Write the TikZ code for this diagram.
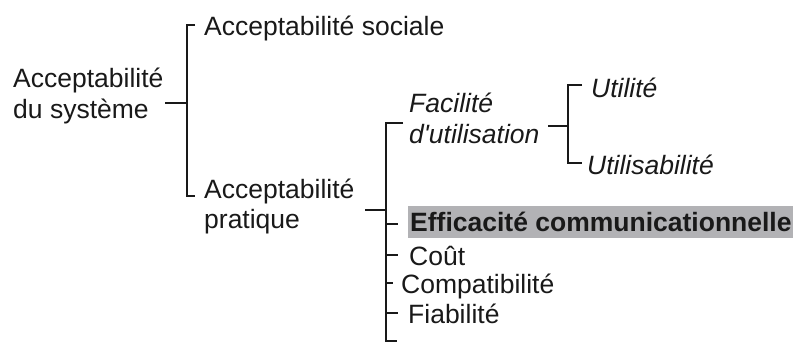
\documentclass[tikz,border=0pt]{standalone}
\usepackage{fontspec}
\setmainfont{Liberation Sans}
\definecolor{boxgray}{RGB}{178,178,181}
\definecolor{ink}{RGB}{25,25,25}
\begin{document}
\begin{tikzpicture}[x=1pt,y=-1pt,
  txt/.style={inner sep=0pt,anchor=base west,text=ink,font=\fontsize{26.5}{30}\selectfont},
  itx/.style={txt,font=\fontsize{26.5}{30}\selectfont\itshape},
  bfx/.style={txt,font=\fontsize{26.5}{30}\selectfont\bfseries},
  brk/.style={draw=ink,line width=1.5pt,line join=miter,line cap=butt}]
\useasboundingbox (0,0) rectangle (793,342);
% texts
\node[txt] (sys1) at (13,88) {Acceptabilité};
\node[txt] (sys2) at (13,119) {du système};
\node[txt] (soc) at (204,36) {Acceptabilité sociale};
\node[txt] (prat1) at (204,198) {Acceptabilité};
\node[txt] (prat2) at (204,229) {pratique};
\node[itx] (fac1) at (409,113) {Facilité};
\node[itx] (fac2) at (409,144) {d\textquotesingle utilisation};
\node[itx] (uti) at (591,98) {Utilité};
\node[itx] (usa) at (587,175) {Utilisabilité};
\fill[boxgray] (408,206) rectangle (793,238);
\node[bfx] (eff) at (410,232) {Efficacité communicationnelle};
\node[txt] (cout) at (409,265) {Coût};
\node[txt] (compat) at (401,293) {Compatibilité};
\node[txt] (fiab) at (408,323) {Fiabilité};
% bracket 1
\coordinate (b1s) at (165,103);
\coordinate (b1m) at (187,103);
\coordinate (b1t) at (187,25);
\coordinate (b1b) at (187,196);
\draw[brk] (b1s) -- (b1m);
\draw[brk] (195,25) -- (b1t) -- (b1b) -- (195,196);
% bracket 2
\coordinate (b2s) at (365,210);
\coordinate (b2m) at (386,210);
\coordinate (b2t) at (386,123);
\coordinate (b2b) at (386,341);
\draw[brk] (b2s) -- (b2m);
\draw[brk] (403,123) -- (b2t) -- (b2b) -- (397,341);
\draw[brk] (386,224) -- (398,224);
\draw[brk] (386,255) -- (398,255);
\draw[brk] (386,283) -- (393,283);
\draw[brk] (386,313) -- (398,313);
% bracket 3
\coordinate (b3s) at (548,126);
\coordinate (b3m) at (568,126);
\coordinate (b3t) at (568,85);
\coordinate (b3b) at (568,163);
\draw[brk] (b3s) -- (b3m);
\draw[brk] (582,85) -- (b3t) -- (b3b) -- (582,163);
\end{tikzpicture}
\end{document}
